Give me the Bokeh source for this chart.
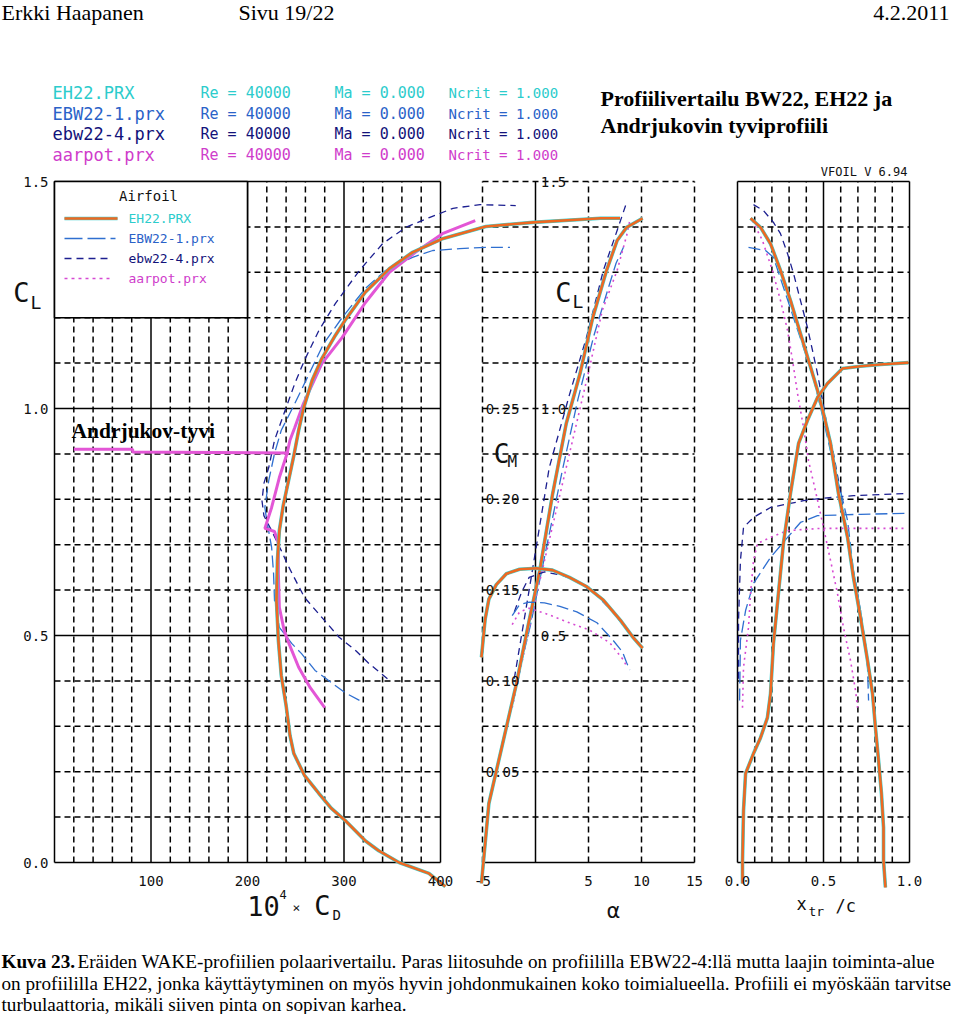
from bokeh.plotting import figure
from bokeh.models import Range1d
from bokeh.core.properties import value
from bokeh.embed import file_html
from bokeh.resources import INLINE

# ---------------- data ----------------
airfoils = ["EH22.PRX", "EBW22-1.prx", "ebw22-4.prx", "aarpot.prx"]
reynolds = [40000, 40000, 40000, 40000]
mach = [0.000, 0.000, 0.000, 0.000]
ncrit = [1.000, 1.000, 1.000, 1.000]

# polar: 10^4*CD vs CL
eh22_cd = [405, 388, 357, 336, 322, 301, 287, 274, 259, 248, 244, 240, 235, 232, 230, 231, 233,
           237, 243, 248, 253, 258, 267, 277, 291, 301, 322, 347, 371, 402, 447, 496, 566, 586]
eh22_cl = [-0.053, -0.024, 0.0, 0.026, 0.048, 0.093, 0.119, 0.152, 0.192, 0.240, 0.280, 0.346,
           0.412, 0.489, 0.577, 0.665, 0.731, 0.786, 0.846, 0.896, 0.952, 1.000, 1.062, 1.110,
           1.161, 1.194, 1.256, 1.308, 1.344, 1.374, 1.401, 1.410, 1.419, 1.419]
ebw1_cd = [316, 301, 284, 270, 256, 246, 233, 228, 227, 225, 220, 218, 222, 228, 235, 249, 264,
           279, 298, 322, 343, 371, 392, 420, 447, 472]
ebw1_cl = [0.357, 0.374, 0.401, 0.423, 0.460, 0.482, 0.518, 0.577, 0.637, 0.694, 0.753, 0.782,
           0.841, 0.901, 0.952, 1.011, 1.077, 1.143, 1.200, 1.264, 1.304, 1.333, 1.348, 1.352,
           1.355, 1.355]
ebw4_cd = [345, 326, 312, 295, 277, 259, 243, 235, 225, 217, 215, 217, 222, 228, 239, 249, 259,
           274, 291, 316, 340, 364, 389, 413, 441, 478]
ebw4_cl = [0.405, 0.438, 0.467, 0.496, 0.540, 0.584, 0.650, 0.687, 0.731, 0.764, 0.797, 0.835,
           0.870, 0.930, 0.996, 1.055, 1.106, 1.172, 1.231, 1.304, 1.363, 1.399, 1.421, 1.441,
           1.449, 1.447]
aarp_cd = [280, 265, 253, 243, 238, 233, 232, 232, 228, 218, 225, 233, 241, 244, 249, 258, 277,
           298, 322, 347, 374, 402, 436]
aarp_cl = [0.341, 0.385, 0.430, 0.482, 0.511, 0.562, 0.637, 0.703, 0.729, 0.736, 0.782, 0.848,
           0.901, 0.930, 0.958, 1.011, 1.099, 1.156, 1.233, 1.300, 1.344, 1.385, 1.414]
# hand-drawn "Andrjukov-tyvi" line
andr_cd = [20, 81, 81, 243]
andr_cl = [0.910, 0.910, 0.904, 0.902]

# CL vs alpha
eh22_a = [-5.1, -4.4, -3.1, -1.8, -0.6, 0.4, 1.6, 2.9, 4.2, 5.4, 6.7, 7.7, 8.6, 10.1]
eh22_cla = [-0.046, 0.130, 0.262, 0.394, 0.533, 0.643, 0.810, 0.967, 1.077, 1.200, 1.304, 1.370,
            1.399, 1.419]
ebw1_a = [-2.2, -0.5, 1.0, 2.5, 4.0, 5.5, 6.8, 7.6, 8.3]
ebw1_cla = [0.357, 0.52, 0.69, 0.86, 1.02, 1.16, 1.26, 1.32, 1.355]
ebw4_a = [-2.0, -0.6, 1.3, 3.2, 4.8, 6.4, 7.7, 8.5]
ebw4_cla = [0.405, 0.60, 0.87, 1.03, 1.156, 1.304, 1.392, 1.447]
aarp_a = [-2.2, 0.0, 2.9, 5.0, 6.3, 7.7, 8.6, 8.9]
aarp_cla = [0.341, 0.58, 0.87, 1.08, 1.216, 1.304, 1.381, 1.414]

# CM vs alpha
eh22_cma = [-5.1, -4.75, -4.4, -3.7, -2.75, -1.5, 0.1, 1.6, 3.2, 4.8, 6.4, 8.0, 9.2, 10.1]
eh22_cm = [0.113, 0.134, 0.145, 0.153, 0.159, 0.1615, 0.162, 0.161, 0.157, 0.152, 0.1445, 0.1335,
           0.124, 0.118]
ebw1_cma = [-2.2, -1.5, -0.6, 0.85, 2.3, 3.9, 5.8, 7.3, 8.2, 8.6, 8.9]
ebw1_cm = [0.136, 0.142, 0.1434, 0.143, 0.141, 0.138, 0.132, 0.1225, 0.116, 0.110, 0.106]
ebw4_cma = [-2.0, -1.3, -0.6, 0.85, 2.6, 4.2, 5.8, 7.3, 8.5]
ebw4_cm = [0.138, 0.149, 0.157, 0.160, 0.158, 0.154, 0.147, 0.138, 0.129]
aarp_cma = [-2.2, -1.5, -0.6, 1.0, 3.2, 5.1, 7.0, 8.3, 8.6]
aarp_cm = [0.131, 0.138, 0.140, 0.137, 0.132, 0.128, 0.121, 0.1115, 0.108]

# transition location vs CL (upper / lower surface)
eh22_xt_up = [0.076, 0.134, 0.192, 0.250, 0.308, 0.366, 0.413, 0.465, 0.500, 0.541, 0.587, 0.640,
              0.674, 0.715, 0.756, 0.785, 0.802, 0.820, 0.837, 0.849, 0.849, 0.860]
eh22_xt_up_cl = [1.419, 1.399, 1.363, 1.304, 1.238, 1.165, 1.106, 1.040, 0.989, 0.923, 0.813,
                 0.716, 0.628, 0.540, 0.445, 0.372, 0.297, 0.225, 0.152, 0.077, 0.004, -0.055]
eh22_xt_lo = [0.029, 0.029, 0.035, 0.047, 0.093, 0.134, 0.174, 0.192, 0.209, 0.238, 0.267, 0.308,
              0.355, 0.407, 0.465, 0.523, 0.610, 0.715, 0.831, 0.994]
eh22_xt_lo_cl = [-0.046, 0.004, 0.115, 0.196, 0.240, 0.275, 0.319, 0.372, 0.482, 0.593, 0.703,
                 0.813, 0.923, 0.974, 1.024, 1.055, 1.088, 1.093, 1.097, 1.101]
ebw1_xt_up = [0.064, 0.163, 0.209, 0.267, 0.326, 0.384, 0.436, 0.483, 0.523, 0.570, 0.599, 0.640,
              0.674, 0.715, 0.756, 0.762]
ebw1_xt_up_cl = [1.355, 1.348, 1.333, 1.267, 1.200, 1.134, 1.077, 1.002, 0.936, 0.857, 0.819,
                 0.753, 0.643, 0.555, 0.430, 0.357]
ebw1_xt_lo = [0.012, 0.017, 0.047, 0.093, 0.192, 0.291, 0.366, 0.465, 0.715, 0.988]
ebw1_xt_lo_cl = [0.357, 0.489, 0.555, 0.615, 0.672, 0.716, 0.749, 0.764, 0.767, 0.769]
ebw4_xt_up = [0.093, 0.151, 0.209, 0.250, 0.291, 0.326, 0.366, 0.407, 0.436, 0.465, 0.494, 0.523,
              0.558, 0.587, 0.616, 0.645, 0.674, 0.715, 0.750, 0.762]
ebw4_xt_up_cl = [1.449, 1.436, 1.410, 1.385, 1.341, 1.297, 1.238, 1.178, 1.128, 1.077, 1.018,
                 0.958, 0.901, 0.841, 0.775, 0.709, 0.643, 0.555, 0.467, 0.405]
ebw4_xt_lo = [0.006, 0.006, 0.017, 0.035, 0.093, 0.192, 0.384, 0.483, 0.674, 0.988]
ebw4_xt_lo_cl = [0.405, 0.533, 0.665, 0.738, 0.760, 0.782, 0.797, 0.802, 0.808, 0.813]
aarp_xt_up = [0.087, 0.145, 0.203, 0.250, 0.291, 0.320, 0.349, 0.384, 0.413, 0.453, 0.500, 0.541,
              0.581, 0.616, 0.657, 0.686, 0.698]
aarp_xt_up_cl = [1.414, 1.370, 1.304, 1.238, 1.172, 1.106, 1.033, 0.958, 0.885, 0.819, 0.738,
                 0.665, 0.593, 0.518, 0.445, 0.379, 0.341]
aarp_xt_lo = [0.029, 0.035, 0.064, 0.076, 0.093, 0.116, 0.192, 0.291, 0.483, 0.988]
aarp_xt_lo_cl = [0.341, 0.430, 0.518, 0.593, 0.665, 0.703, 0.716, 0.731, 0.736, 0.736]

# ticks / grids
cl_ticks = [0.0, 0.5, 1.0, 1.5]
cl_minor = [0.1, 0.2, 0.3, 0.4, 0.6, 0.7, 0.8, 0.9, 1.1, 1.2, 1.3, 1.4]
cd_ticks = [100, 200, 300, 400]
cd_major = [0, 100, 200, 300, 400]
cd_minor = [20, 40, 60, 80, 120, 140, 160, 180, 220, 240, 260, 280, 320, 340, 360, 380]
alpha_ticks = [-5, 5, 10, 15]
alpha_solid = [0]
cm_ticks = [0.05, 0.10, 0.15, 0.20, 0.25]
xtr_ticks = [0.0, 0.5, 1.0]
xtr_minor = [0.1, 0.2, 0.3, 0.4, 0.6, 0.7, 0.8, 0.9]

header = ["Erkki Haapanen", "Sivu 19/22", "4.2.2011"]
title_lines = ["Profiilivertailu BW22, EH22 ja", "Andrjukovin tyviprofiili"]
caption_bold = "Kuva  23."
caption_lines = [
    "Eräiden WAKE-profiilien polaarivertailu. Paras liitosuhde on profiililla EBW22-4:llä mutta laajin toiminta-alue",
    "on profiililla EH22, jonka käyttäytyminen on myös hyvin johdonmukainen koko toimialueella. Profiili ei myöskään tarvitse",
    "turbulaattoria, mikäli siiven pinta on sopivan karhea.",
]

# ---------------- layout: the frame fills the whole canvas ----------------
W, H = 959, 1014


def lin_range(v0, p0, v1, p1, a, b):
    k = (v1 - v0) / (p1 - p0)
    return v0 + (a - p0) * k, v0 + (b - p0) * k


# pixel anchors of the three panels (value -> page pixel)
cd_lo, cd_hi = lin_range(0, 54, 400, 440, 0, W)
al_lo, al_hi = lin_range(-5, 482, 15, 694, 0, W)
xt_lo, xt_hi = lin_range(0, 737, 1, 909, 0, W)
cl_lo, cl_hi = lin_range(0, 862, 1.5, 181, H, 0)


def fx(px):
    return cd_lo + px * (cd_hi - cd_lo) / W


def fy(py):
    return cl_lo + (H - py) * (cl_hi - cl_lo) / H


p = figure(width=W, height=H, x_range=Range1d(cd_lo, cd_hi), y_range=Range1d(cl_lo, cl_hi),
           x_axis_location=None, y_axis_location=None, min_border=0,
           toolbar_location=None, output_backend="svg",
           outline_line_color=None, background_fill_color="white",
           border_fill_color="white")
p.extra_x_ranges = {"alpha": Range1d(al_lo, al_hi), "xtr": Range1d(xt_lo, xt_hi)}
p.extra_y_ranges = {"cm": Range1d(cl_lo / 4, cl_hi / 4)}
p.grid.visible = False

DASH = "6 4"
GW = 1.5


def vlines(xs, y0, y1, dash, rng="default"):
    p.segment(x0=xs, y0=[y0] * len(xs), x1=xs, y1=[y1] * len(xs), line_color="black",
              line_width=GW, line_dash=dash, x_range_name=rng)


def hlines(ys, x0, x1, dash, rng="default"):
    p.segment(x0=[x0] * len(ys), y0=ys, x1=[x1] * len(ys), y1=ys, line_color="black",
              line_width=GW, line_dash=dash, x_range_name=rng)


# panel 1 grid
vlines(cd_minor, 0, 1.5, DASH)
vlines(cd_major, 0, 1.5, "solid")
hlines(cl_minor, 0, 400, DASH)
hlines(cl_ticks, 0, 400, "solid")
# panel 2 grid
vlines(alpha_ticks, 0, 1.5, DASH, "alpha")
vlines(alpha_solid, 0, 1.5, "solid", "alpha")
hlines(cl_minor + [0.5, 1.0, 1.5], -5, 15, DASH, "alpha")
hlines([0.0], -5, 15, "solid", "alpha")
# panel 3 grid
vlines(xtr_minor, 0, 1.5, DASH, "xtr")
vlines(xtr_ticks, 0, 1.5, "solid", "xtr")
hlines(cl_minor, 0, 1, DASH, "xtr")
hlines(cl_ticks, 0, 1, "solid", "xtr")

# legend box (white) in panel 1
p.quad(left=[0], right=[200], bottom=[1.2], top=[1.5], fill_color="white",
       line_color="black", line_width=1.6)

C_CYAN = "#3ccfcf"
C_ORANGE = "#ee6822"
C_BLUE = "#2f6fd0"
C_NAVY = "#1c1f90"
C_MAG = "#d64ad2"
C_MAG_THICK = "#e356d6"
D_BLUE = "12 5"
D_NAVY = "7 5"
D_MAG = "2 4"


def eh22(x, y, xr="default", yr="default"):
    p.line(x, y, line_color=C_CYAN, line_width=3.6, x_range_name=xr, y_range_name=yr)
    p.line(x, y, line_color=C_ORANGE, line_width=2.6, x_range_name=xr, y_range_name=yr)


def thin(x, y, color, dash, xr="default", yr="default", w=1.3):
    p.line(x, y, line_color=color, line_width=w, line_dash=dash, x_range_name=xr, y_range_name=yr)


# panel 1 polars
thin(ebw4_cd, ebw4_cl, C_NAVY, D_NAVY)
thin(ebw1_cd, ebw1_cl, C_BLUE, D_BLUE)
p.line(aarp_cd, aarp_cl, line_color=C_MAG_THICK, line_width=3)
p.line(andr_cd, andr_cl, line_color=C_MAG_THICK, line_width=3)
eh22(eh22_cd, eh22_cl)

# panel 2: CL(alpha) and CM(alpha)
thin(ebw4_a, ebw4_cla, C_NAVY, D_NAVY, "alpha")
thin(ebw1_a, ebw1_cla, C_BLUE, D_BLUE, "alpha")
thin(aarp_a, aarp_cla, C_MAG, D_MAG, "alpha", w=1.6)
eh22(eh22_a, eh22_cla, "alpha")
thin(ebw4_cma, ebw4_cm, C_NAVY, D_NAVY, "alpha", "cm")
thin(ebw1_cma, ebw1_cm, C_BLUE, D_BLUE, "alpha", "cm")
thin(aarp_cma, aarp_cm, C_MAG, D_MAG, "alpha", "cm", w=1.6)
eh22(eh22_cma, eh22_cm, "alpha", "cm")

# panel 3: transition
thin(ebw4_xt_up, ebw4_xt_up_cl, C_NAVY, D_NAVY, "xtr")
thin(ebw4_xt_lo, ebw4_xt_lo_cl, C_NAVY, D_NAVY, "xtr")
thin(ebw1_xt_up, ebw1_xt_up_cl, C_BLUE, D_BLUE, "xtr")
thin(ebw1_xt_lo, ebw1_xt_lo_cl, C_BLUE, D_BLUE, "xtr")
thin(aarp_xt_up, aarp_xt_up_cl, C_MAG, D_MAG, "xtr", w=1.6)
thin(aarp_xt_lo, aarp_xt_lo_cl, C_MAG, D_MAG, "xtr", w=1.6)
eh22(eh22_xt_up, eh22_xt_up_cl, "xtr")
eh22(eh22_xt_lo, eh22_xt_lo_cl, "xtr")

MONO = "DejaVu Sans Mono"
SERIF = "Liberation Serif"
INK = "#111111"


def ticktext(xs, ys, labels, xr="default", yr="default", align="center"):
    p.text(x=xs, y=ys, text=labels, text_align=align, text_baseline="middle",
           text_font=value(MONO), text_font_size=value("14px"), text_color=INK,
           x_range_name=xr, y_range_name=yr)


# tick labels
ytick = fy(880)
ticktext(cd_ticks, [ytick] * len(cd_ticks), [str(v) for v in cd_ticks])
ticktext(alpha_ticks, [ytick] * len(alpha_ticks), [str(v) for v in alpha_ticks], "alpha")
ticktext(xtr_ticks, [ytick] * len(xtr_ticks), ["%.1f" % v for v in xtr_ticks], "xtr")
ticktext([fx(48)] * len(cl_ticks), cl_ticks, ["%.1f" % v for v in cl_ticks], align="right")
ticktext([-4.7] * len(cm_ticks), cm_ticks, ["%.2f" % v for v in cm_ticks], "alpha", "cm",
         align="left")
ticktext([0.5] * 3, [0.5, 1.0, 1.5], ["0.5", "1.0", "1.5"], "alpha", align="left")


def lab(text, px, py, size, font=MONO, color=INK, align="left", bold=False):
    p.text(x=[fx(px)], y=[fy(py)], text=[text], text_font=value(font),
           text_font_size=value("%spx" % size), text_color=color, text_align=align,
           text_baseline="middle", text_font_style="bold" if bold else "normal")


# header
lab(header[0], 1, 12, 22, SERIF, "black")
lab(header[1], 238, 12, 22, SERIF, "black")
lab(header[2], 949, 12, 22, SERIF, "black", align="right")

# run legend at top
row_colors = ["#2ccccc", "#2a62c8", "#12127a", "#cf3ccb"]
row_y = [92, 113, 133, 154]
for name, re, ma, nc, col, yy in zip(airfoils, reynolds, mach, ncrit, row_colors, row_y):
    lab(name, 52, yy, 17, color=col)
    lab("Re = %d" % re, 200, yy, 15, color=col)
    lab("Ma = %.3f" % ma, 334, yy, 15, color=col)
    lab("Ncrit = %.3f" % nc, 448, yy, 14, color=col)

lab(title_lines[0], 600, 98, 22, SERIF, "black", bold=True)
lab(title_lines[1], 600, 125, 22, SERIF, "black", bold=True)
lab("VFOIL V 6.94", 907, 171, 12, align="right")

# airfoil legend inside box
lab("Airfoil", 148, 195, 14, align="center")
leg_y = [218, 238, 258, 278]
p.segment(x0=[fx(64)], y0=[fy(leg_y[0])], x1=[fx(117)], y1=[fy(leg_y[0])],
          line_color=C_CYAN, line_width=3.6)
p.segment(x0=[fx(64)], y0=[fy(leg_y[0])], x1=[fx(117)], y1=[fy(leg_y[0])],
          line_color=C_ORANGE, line_width=2.6)
p.segment(x0=[fx(64)], y0=[fy(leg_y[1])], x1=[fx(115)], y1=[fy(leg_y[1])],
          line_color=C_BLUE, line_width=1.3, line_dash="18 5")
p.segment(x0=[fx(64)], y0=[fy(leg_y[2])], x1=[fx(112)], y1=[fy(leg_y[2])],
          line_color=C_NAVY, line_width=1.3, line_dash=D_NAVY)
p.segment(x0=[fx(64)], y0=[fy(leg_y[3])], x1=[fx(112)], y1=[fy(leg_y[3])],
          line_color=C_MAG, line_width=1.6, line_dash="3 4")
for name, col, yy in zip(airfoils, row_colors, leg_y):
    lab(name, 128, yy, 13, color=col)

lab("Andrjukov-tyvi", 71, 430, 21.5, SERIF, "black", bold=True)

# axis symbols
lab("C", 21, 292, 27, align="center")
lab("L", 30, 302, 18)
lab("C", 563, 292, 27, align="center")
lab("L", 572, 301, 18)
lab("C", 501, 453, 26, align="center")
lab("M", 507, 461, 16)

lab("10", 263, 905, 27, align="center")
lab("4", 279, 894, 12)
lab("\u00d7", 296, 907, 13, align="center")
lab("C", 322, 905, 27, align="center")
lab("D", 332, 914, 14)
lab("\u03b1", 613, 910, 21, "DejaVu Sans", align="center")
lab("x", 801, 903, 17, align="center")
lab("tr", 808, 911, 13)
lab("/c", 835, 905, 17)

# caption
cap_y = [961, 983, 1004]
lab(caption_bold, 1, cap_y[0], 19.2, SERIF, "black", bold=True)
lab(caption_lines[0], 77, cap_y[0], 19.2, SERIF, "black")
lab(caption_lines[1], 1, cap_y[1], 19.2, SERIF, "black")
lab(caption_lines[2], 1, cap_y[2], 19.2, SERIF, "black")

open("out.html", "w").write(file_html(p, INLINE))
